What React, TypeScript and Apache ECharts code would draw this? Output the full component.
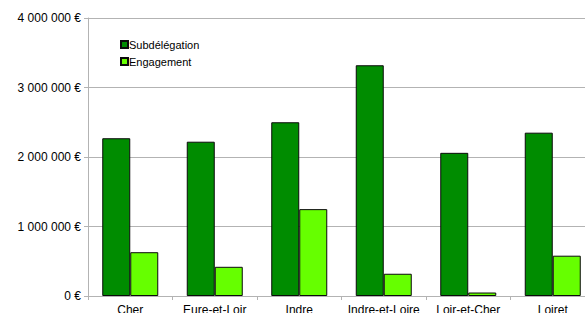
import React, { useEffect, useRef } from "react";
import * as echarts from "echarts";

const categories = ["Cher", "Eure-et-Loir", "Indre", "Indre-et-Loire", "Loir-et-Cher", "Loiret"];
const subdelegation = [2270000, 2220000, 2500000, 3320000, 2060000, 2350000];
const engagement = [630000, 420000, 1250000, 320000, 50000, 580000];
const seriesNames = ["Subdélégation", "Engagement"];

const fmt = (v: number) => {
  const s = Math.round(v).toString().replace(/\B(?=(\d{3})+(?!\d))/g, " ");
  return s + " €";
};

export default function App() {
  const ref = useRef<HTMLDivElement>(null);
  useEffect(() => {
    document.body.style.margin = "0";
    document.body.style.overflow = "hidden";
    const chart = echarts.init(ref.current!, null, { renderer: "svg" });
    const font = "Liberation Sans";
    chart.setOption({
      animation: false,
      backgroundColor: "#ffffff",
      textStyle: { fontFamily: font },
      grid: { left: 88, top: 18, right: 5, bottom: 34, containLabel: false },
      legend: {
        orient: "vertical",
        left: 120,
        top: 39,
        padding: 0,
        icon: "rect",
        itemWidth: 7,
        itemHeight: 7,
        itemGap: 6,
        data: seriesNames,
        textStyle: { fontFamily: font, fontSize: 11, color: "#000", padding: [0, 0, 0, -4] },
      },
      xAxis: {
        type: "category",
        data: categories,
        axisLine: { show: true, lineStyle: { color: "#b3b3b3", width: 1 } },
        axisTick: { show: true, length: 4, lineStyle: { color: "#b3b3b3" } },
        axisLabel: { fontFamily: font, fontSize: 12, color: "#000", margin: 8, interval: 0 },
        splitLine: { show: false },
      },
      yAxis: {
        type: "value",
        min: 0,
        max: 4000000,
        interval: 1000000,
        axisLine: { show: true, lineStyle: { color: "#b3b3b3", width: 1 } },
        axisTick: { show: true, length: 4, lineStyle: { color: "#b3b3b3" } },
        axisLabel: { fontFamily: font, fontSize: 12, color: "#000", margin: 7, formatter: fmt },
        splitLine: { show: true, lineStyle: { color: "#b3b3b3", width: 1 } },
      },
      series: [
        {
          name: seriesNames[0],
          type: "bar",
          data: subdelegation,
          barWidth: 28,
          barGap: "0%",
          itemStyle: { color: "#008c00", borderColor: "#0a0a0a", borderWidth: 1 },
        },
        {
          name: seriesNames[1],
          type: "bar",
          data: engagement,
          barWidth: 28,
          barGap: "0%",
          itemStyle: { color: "#66ff00", borderColor: "#0a0a0a", borderWidth: 1 },
        },
      ],
    });
    return () => chart.dispose();
  }, []);
  return (
    <div
      ref={ref}
      style={{ position: "fixed", left: 0, top: 0, width: 600, height: 330 }}
    />
  );
}
